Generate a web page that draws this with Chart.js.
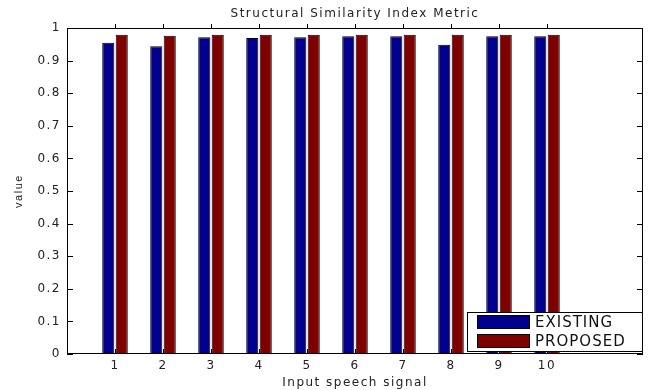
<!DOCTYPE html>
<html>
<head>
<meta charset="utf-8">
<script src="https://cdn.jsdelivr.net/npm/chart.js@4.4.0/dist/chart.umd.min.js"></script>
<style>
  body { margin: 0; background: #fff; }
  #wrap { width: 648px; height: 390px; }
</style>
</head>
<body>
<div id="wrap"><canvas id="ssim"></canvas></div>
<script>
const categories = [1, 2, 3, 4, 5, 6, 7, 8, 9, 10];
const existing = [0.955, 0.944, 0.972, 0.969, 0.972, 0.975, 0.975, 0.949, 0.975, 0.975];
const proposed = [0.979, 0.976, 0.979, 0.979, 0.979, 0.979, 0.979, 0.979, 0.979, 0.979];
const seriesNames = ['EXISTING', 'PROPOSED'];

const FONT = '"DejaVu Sans", Verdana, sans-serif';

// the source figure is stretched sideways, so text gets a bit of extra spacing
const wideText = {
    id: 'wideText',
    beforeDraw(chart) { chart.ctx.letterSpacing = '1.5px'; },
    afterDraw(chart) { chart.ctx.letterSpacing = '0px'; }
};

// box, ticks and the legend drawn the matlab way
const matlabFrame = {
    id: 'matlabFrame',
    afterDatasetsDraw(chart) {
        const { ctx, chartArea: a, scales: { x, y } } = chart;
        ctx.save();
        ctx.strokeStyle = '#000';
        ctx.lineWidth = 1;
        ctx.strokeRect(a.left + 0.5, a.top + 0.5, a.width - 1, a.height - 1);

        ctx.beginPath();
        categories.forEach(c => {
            const px = Math.round(x.getPixelForValue(c)) + 0.5;
            ctx.moveTo(px, a.top);
            ctx.lineTo(px, a.top - 4);
            ctx.moveTo(px, a.bottom);
            ctx.lineTo(px, a.bottom - 5);
        });
        y.ticks.forEach(t => {
            const py = Math.round(y.getPixelForValue(t.value)) + 0.5;
            ctx.moveTo(a.left, py);
            ctx.lineTo(a.left + 6, py);
            ctx.moveTo(a.right, py);
            ctx.lineTo(a.right - 6, py);
        });
        ctx.stroke();

        // legend, lower right inside the axes
        const w = 176, h = 40;
        const lx = a.right - w, ly = a.bottom - 2 - h;
        ctx.fillStyle = '#fff';
        ctx.fillRect(lx, ly, w, h);
        ctx.strokeRect(lx + 0.5, ly + 0.5, w - 1, h - 1);
        ctx.letterSpacing = '1px';
        ctx.font = '15px ' + FONT;
        ctx.textBaseline = 'middle';
        chart.data.datasets.forEach((ds, i) => {
            const cy = ly + 10 + i * 19;
            ctx.fillStyle = ds.backgroundColor;
            ctx.fillRect(lx + 10, cy - 7, 53, 14);
            ctx.strokeRect(lx + 10.5, cy - 6.5, 52, 13);
            ctx.fillStyle = '#111';
            ctx.fillText(ds.label, lx + 68, cy + 1);
        });
        ctx.restore();
    }
};

new Chart(document.getElementById('ssim'), {
    type: 'bar',
    data: {
        datasets: [{
            label: seriesNames[0],
            data: categories.map((c, i) => ({ x: c, y: existing[i] })),
            backgroundColor: '#00008c',
            borderColor: '#000',
            borderWidth: 1
        }, {
            label: seriesNames[1],
            data: categories.map((c, i) => ({ x: c, y: proposed[i] })),
            backgroundColor: '#800000',
            borderColor: '#000',
            borderWidth: 1
        }]
    },
    options: {
        responsive: true,
        maintainAspectRatio: false,
        animation: false,
        categoryPercentage: 0.56,
        barPercentage: 0.9,
        layout: { padding: { left: 0, right: 4, top: 0, bottom: 0 } },
        plugins: {
            legend: { display: false },
            tooltip: { enabled: false },
            title: {
                display: true,
                fullSize: false, // centre over the axes, not the canvas
                text: 'Structural Similarity Index Metric',
                color: '#222',
                font: { family: FONT, size: 12, weight: 'normal' },
                padding: { top: 7, bottom: 6.6 }
            }
        },
        scales: {
            x: {
                type: 'linear',
                min: 0,
                max: 12,
                offset: false,
                grid: { display: false, drawTicks: false },
                border: { display: false },
                afterFit: s => { s.height = 36; },
                ticks: {
                    stepSize: 1,
                    autoSkip: false,
                    maxRotation: 0,
                    padding: 5,
                    color: '#222',
                    font: { family: FONT, size: 12 },
                    callback: v => (categories.includes(v) ? String(v) : '')
                },
                title: {
                    display: true,
                    text: 'Input speech signal',
                    color: '#222',
                    font: { family: FONT, size: 12 },
                    padding: { top: 0, bottom: 0 }
                }
            },
            y: {
                min: 0,
                max: 1,
                grid: { display: false, drawTicks: false },
                border: { display: false },
                afterFit: s => { s.width = 67; },
                ticks: {
                    stepSize: 0.1,
                    padding: 6,
                    color: '#222',
                    font: { family: FONT, size: 12 },
                    callback: v => String(+v.toFixed(1))
                },
                title: {
                    display: true,
                    text: 'value',
                    color: '#222',
                    font: { family: 'Arial, "Liberation Sans", sans-serif', size: 11 },
                    padding: { top: 12, bottom: 0 }
                }
            }
        }
    },
    plugins: [wideText, matlabFrame]
});
</script>
</body>
</html>
